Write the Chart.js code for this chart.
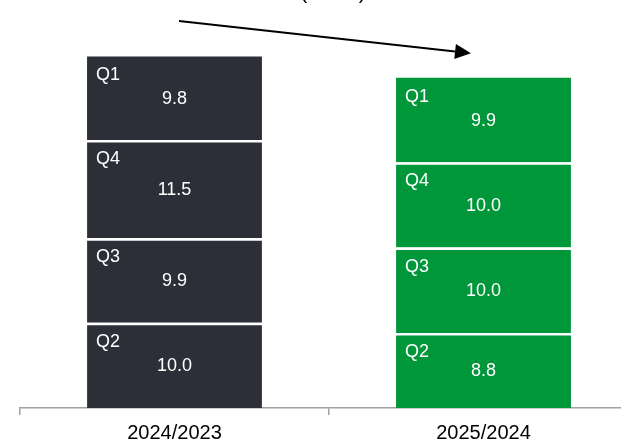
<!DOCTYPE html>
<html>
<head>
<meta charset="utf-8">
<script src="https://cdn.jsdelivr.net/npm/chart.js@4/dist/chart.umd.min.js"></script>
<style>
  html, body { margin: 0; padding: 0; background: #fff; overflow: hidden; width: 621px; height: 441px; }
  #wrap { position: absolute; left: 0; top: 0; width: 640px; height: 451px; }
</style>
</head>
<body>
<div id="wrap"><canvas id="c"></canvas></div>
<script>
const categories = ['2024/2023', '2025/2024'];
const quarters = ['Q2', 'Q3', 'Q4', 'Q1'];           // stacked bottom to top
const q2Values = [10.0, 8.8];
const q3Values = [9.9, 10.0];
const q4Values = [11.5, 10.0];
const q1Values = [9.8, 9.9];
const titleText = '(Mio. t)';
const barColors = ['#2c2f38', '#00963a'];

const seriesValues = [q2Values, q3Values, q4Values, q1Values];
const FONT = '"Liberation Sans", Arial, sans-serif';

const datasets = quarters.map((q, i) => ({
  label: q,
  data: seriesValues[i],
  backgroundColor: barColors,
  borderColor: '#ffffff',
  borderWidth: i === quarters.length - 1 ? 0 : { top: 2.5, left: 0, right: 0, bottom: 0 },
  borderSkipped: 'start',
  categoryPercentage: 1,
  barPercentage: 0.566
}));

const labelPlugin = {
  id: 'segLabels',
  afterDatasetsDraw(chart) {
    const ctx = chart.ctx;
    ctx.save();
    ctx.fillStyle = '#ffffff';
    ctx.font = '18px ' + FONT;
    chart.data.datasets.forEach((ds, di) => {
      const meta = chart.getDatasetMeta(di);
      meta.data.forEach((el, idx) => {
        const p = el.getProps(['x', 'y', 'base', 'width'], true);
        ctx.textAlign = 'left';
        ctx.textBaseline = 'middle';
        ctx.fillText(ds.label, p.x - p.width / 2 + 9, p.y + 19);
        ctx.textAlign = 'center';
        ctx.fillText(ds.data[idx].toFixed(1), p.x, (p.y + p.base) / 2 + 1);
      });
    });
    // trend arrow from top of first bar to top of second bar
    const top = chart.getDatasetMeta(chart.data.datasets.length - 1).data;
    const a = top[0].getProps(['x', 'y'], true);
    const b = top[1].getProps(['x', 'y'], true);
    const x1 = a.x + 4.5, y1 = a.y - 35.5;
    const x2 = b.x - 12.5, y2 = b.y - 24.5;
    const ang = Math.atan2(y2 - y1, x2 - x1);
    const hl = 16, hw = 7.5;
    const bx = x2 - hl * Math.cos(ang), by = y2 - hl * Math.sin(ang);
    ctx.strokeStyle = '#000';
    ctx.lineWidth = 2;
    ctx.beginPath();
    ctx.moveTo(x1, y1);
    ctx.lineTo(bx, by);
    ctx.stroke();
    ctx.fillStyle = '#000';
    ctx.beginPath();
    ctx.moveTo(x2, y2);
    ctx.lineTo(bx + hw * Math.sin(ang), by - hw * Math.cos(ang));
    ctx.lineTo(bx - hw * Math.sin(ang), by + hw * Math.cos(ang));
    ctx.closePath();
    ctx.fill();
    // title (mostly above the visible area)
    ctx.font = '21px ' + FONT;
    ctx.textAlign = 'center';
    ctx.textBaseline = 'alphabetic';
    ctx.fillText(titleText, (chart.chartArea.left + chart.chartArea.right) / 2 + 4, -1);
    ctx.restore();
  }
};

new Chart(document.getElementById('c'), {
  type: 'bar',
  data: { labels: categories, datasets },
  options: {
    responsive: true,
    maintainAspectRatio: false,
    animation: false,
    layout: { padding: { left: 20, right: 2, top: 24, bottom: 0 } },
    plugins: { legend: { display: false }, tooltip: { enabled: false }, title: { display: false } },
    scales: {
      x: {
        stacked: true,
        offset: true,
        grid: { display: true, offset: true, drawOnChartArea: false, drawTicks: true, tickLength: 7, color: '#a0a0a0', lineWidth: 1.5 },
        border: { display: true, color: '#a0a0a0', width: 1.5 },
        ticks: { color: '#000', font: { family: FONT, size: 20, lineHeight: 1.2 }, padding: 6, maxRotation: 0 }
      },
      y: { stacked: true, display: false, min: 0, max: 45 }
    }
  },
  plugins: [labelPlugin]
});
</script>
</body>
</html>
